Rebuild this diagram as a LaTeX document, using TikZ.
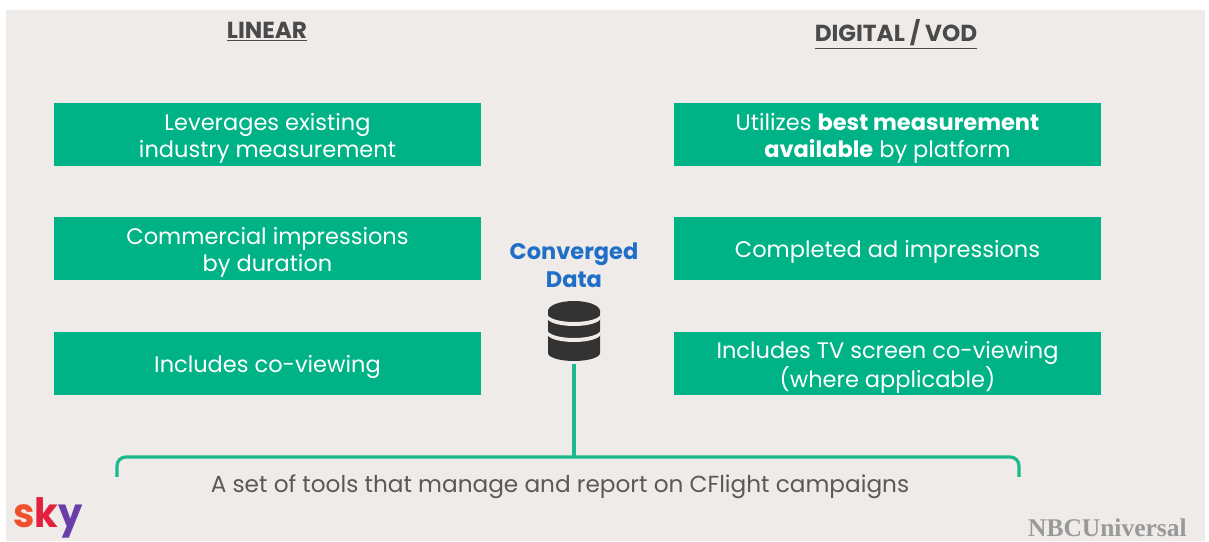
\documentclass[tikz,border=0pt]{standalone}
\usepackage{fontspec}
\setmainfont{Poppins}
\newfontfamily\nbcfont{Liberation Serif}
\newcommand{\boxstrut}{\rule{0pt}{14pt}}
\definecolor{panelgray}{HTML}{EEEBE8}
\definecolor{boxgreen}{HTML}{00B386}
\definecolor{linegreen}{HTML}{1DB88E}
\definecolor{titlegray}{HTML}{4A4A4A}
\definecolor{textgray}{HTML}{595959}
\definecolor{datablue}{HTML}{1F6FC8}
\definecolor{diskgray}{HTML}{333333}
\tikzset{
	infobox/.style={fill=boxgreen,minimum width=8.54cm,minimum height=1.26cm,inner sep=0pt,text=white,align=center,font=\fontsize{12.8}{15.4}\selectfont},
	headline/.style={text=titlegray,font=\fontsize{13.2}{16}\bfseries\selectfont},
	bracketline/.style={draw=linegreen,line width=1.8pt}
}
\begin{document}
\begin{tikzpicture}
	\useasboundingbox (0,0) rectangle (24.18,10.82);
	\fill[white] (0,0) rectangle (24.18,10.82);
	\fill[panelgray] (0.12,0) rectangle (24.1,10.62);
	
	\node[headline] (linear) at (5.34,10.18) {\underline{LINEAR}};
	\node[headline] (digital) at (17.92,10.14) {\underline{DIGITAL / VOD}};
	
	\node[infobox] (a1) at (5.35,8.13) {\boxstrut Leverages existing\\industry measurement};
	\node[infobox] (a2) at (5.35,5.85) {\boxstrut Commercial impressions\\by duration};
	\node[infobox] (a3) at (5.35,3.55) {\boxstrut Includes co-viewing};
	\node[infobox] (b1) at (17.75,8.13) {\boxstrut Utilizes \textbf{best measurement}\\\textbf{available} by platform};
	\node[infobox] (b2) at (17.75,5.85) {\boxstrut Completed ad impressions};
	\node[infobox] (b3) at (17.75,3.55) {\boxstrut Includes TV screen co-viewing\\(where applicable)};
	
	\node[text=datablue,align=center,font=\fontsize{12.8}{16}\bfseries\selectfont] (conv) at (11.48,5.52) {Converged\\Data};
	
	% data icon, light bands cut it into disks
	\fill[diskgray] (10.96,4.6) -- (10.96,3.76) arc[start angle=180,end angle=360,x radius=0.52,y radius=0.16] -- (12,4.6) -- cycle;
	\fill[diskgray] (11.48,4.6) ellipse[x radius=0.52,y radius=0.2];
	\foreach \ybase in {4.54,4.22}
		\fill[panelgray] (10.95,\ybase) arc[start angle=180,end angle=360,x radius=0.53,y radius=0.16] -- ++(0,-0.08) arc[start angle=360,end angle=180,x radius=0.53,y radius=0.16] -- cycle;
	
	\coordinate (dbfoot) at (11.48,3.54);
	\coordinate (bracetop) at (11.48,1.68);
	\coordinate (braceleft) at (2.34,1.28);
	\coordinate (braceright) at (20.38,1.28);
	\draw[bracketline] (dbfoot) -- (bracetop);
	\draw[bracketline,rounded corners=5pt] (braceleft) |- (bracetop) -| (braceright);
	
	\node[text=textgray,font=\fontsize{13.2}{16}\selectfont] (tools) at (11.2,1.08) {A set of tools that manage and report on CFlight campaigns};
	
	\node[font=\fontsize{23}{28}\bfseries\selectfont,anchor=base west,inner sep=0pt] (sky) at (0.26,0.27) {\scalebox{0.95}[1]{\textcolor[HTML]{F0502B}{s}\textcolor[HTML]{E4203F}{k}\textcolor[HTML]{6A3DA8}{y}}};
	\node[text=black!40,font=\nbcfont\fontsize{14.5}{18}\bfseries\selectfont,anchor=east,inner sep=0pt] (nbc) at (23.74,0.26) {NBCUniversal};
\end{tikzpicture}
\end{document}
